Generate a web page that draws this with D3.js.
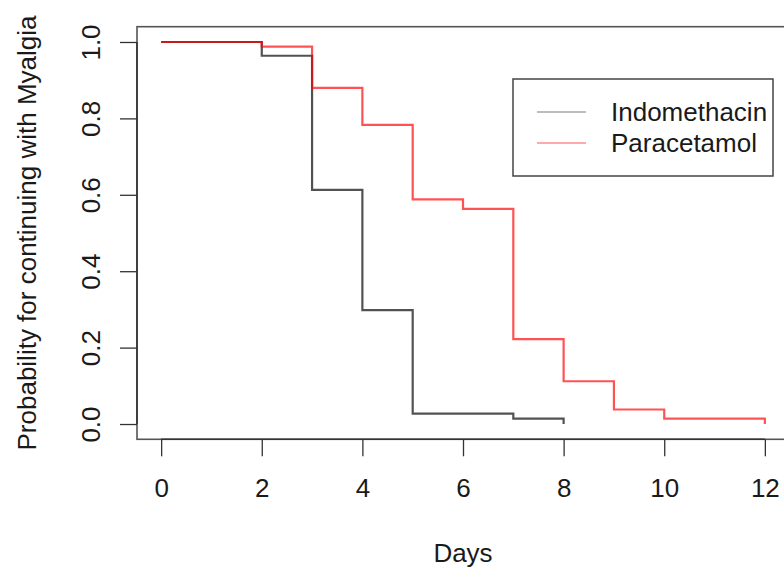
<!DOCTYPE html>
<html>
<head>
<meta charset="utf-8">
<script src="https://cdn.jsdelivr.net/npm/d3@7"></script>
<style>
  html, body { margin: 0; padding: 0; background: #fff; }
  svg { display: block; }
  text { font-family: "Liberation Sans", Arial, sans-serif; fill: #1a1a1a; }
</style>
</head>
<body>
<svg id="chart" width="784" height="572"></svg>
<script>
// ---- data ----
const seriesNames = ["Indomethacin", "Paracetamol"];
const indoTimes = [0, 2, 3, 4, 5, 7, 8];
const indoSurv  = [1.0, 0.964, 0.613, 0.298, 0.027, 0.014, 0.0];
const paraTimes = [0, 2, 3, 4, 5, 6, 7, 8, 9, 10, 12];
const paraSurv  = [1.0, 0.988, 0.880, 0.783, 0.588, 0.563, 0.222, 0.112, 0.038, 0.014, 0.0];
const xTicks = [0, 2, 4, 6, 8, 10, 12];
const yTicks = [0.0, 0.2, 0.4, 0.6, 0.8, 1.0];
const xLabel = "Days";
const yLabel = "Probability for continuing with Myalgia";

// ---- layout ----
const svg = d3.select("#chart");
const fs = 26;
const tickLen = 17;
// R-style 4% extension of data ranges
const x = d3.scaleLinear().domain([-0.48, 12.48]).range([137, 789]);
const y = d3.scaleLinear().domain([-0.04, 1.04]).range([439.3, 26.7]);

// plot box
svg.append("rect")
  .attr("x", x(-0.48)).attr("y", y(1.04))
  .attr("width", x(12.48) - x(-0.48)).attr("height", y(-0.04) - y(1.04))
  .attr("fill", "none").attr("stroke", "#555").attr("stroke-width", 1.6);

// x axis
const xAxis = d3.axisBottom(x).tickValues(xTicks).tickSize(tickLen)
  .tickFormat(d3.format("d"));
const gx = svg.append("g").attr("transform", `translate(0,${y(-0.04)})`).call(xAxis);
gx.select(".domain").attr("d", `M${x(0)},0H${x(12)}`).attr("stroke", "#333").attr("stroke-width", 1.6);
gx.selectAll(".tick line").attr("stroke", "#333").attr("stroke-width", 1.3);
gx.selectAll(".tick text").attr("font-size", fs).attr("fill", "#1a1a1a")
  .attr("font-family", "Liberation Sans, Arial, sans-serif")
  .attr("y", 58).attr("dy", 0);

// y axis
const yAxis = d3.axisLeft(y).tickValues(yTicks).tickSize(tickLen).tickFormat(d3.format(".1f"));
const gy = svg.append("g").attr("transform", `translate(${x(-0.48)},0)`).call(yAxis);
gy.select(".domain").attr("d", `M0,${y(0)}V${y(1)}`).attr("stroke", "#333").attr("stroke-width", 1.6);
gy.selectAll(".tick line").attr("stroke", "#333").attr("stroke-width", 1.3);
gy.selectAll(".tick text").remove();
gy.selectAll(".tick").append("text")
  .attr("transform", "translate(-37,0) rotate(-90)")
  .attr("text-anchor", "middle")
  .attr("font-size", fs).attr("fill", "#1a1a1a")
  .attr("font-family", "Liberation Sans, Arial, sans-serif")
  .text(d => d3.format(".1f")(d));

// axis titles
svg.append("text").attr("x", x(6)).attr("y", 562)
  .attr("text-anchor", "middle").attr("font-size", fs).text(xLabel);
svg.append("text").attr("transform", `translate(36,${(y(-0.04) + y(1.04)) / 2}) rotate(-90)`)
  .attr("text-anchor", "middle").attr("font-size", fs).text(yLabel);

// survival curves
const line = d3.line().x(d => x(d[0])).y(d => y(d[1])).curve(d3.curveStepAfter);
const indo = indoTimes.map((t, i) => [t, indoSurv[i]]);
const para = paraTimes.map((t, i) => [t, paraSurv[i]]);
svg.append("path").attr("d", line(indo)).attr("fill", "none")
  .attr("stroke", "rgba(0,0,0,0.68)").attr("stroke-width", 2.2);
svg.append("path").attr("d", line(para)).attr("fill", "none")
  .attr("stroke", "rgba(255,0,0,0.68)").attr("stroke-width", 2.2);

// legend
const lg = svg.append("g");
lg.append("rect").attr("x", 513).attr("y", 79).attr("width", 260).attr("height", 97)
  .attr("fill", "#fff").attr("stroke", "#444").attr("stroke-width", 1.5);
const legColors = ["#bdbdbd", "#ffaaaa"];
seriesNames.forEach((name, i) => {
  const ly = 112 + i * 31;
  lg.append("line").attr("x1", 537).attr("x2", 586).attr("y1", ly).attr("y2", ly)
    .attr("stroke", legColors[i]).attr("stroke-width", 2);
  lg.append("text").attr("x", 611).attr("y", ly + 9).attr("font-size", fs).text(name);
});
</script>
</body>
</html>
